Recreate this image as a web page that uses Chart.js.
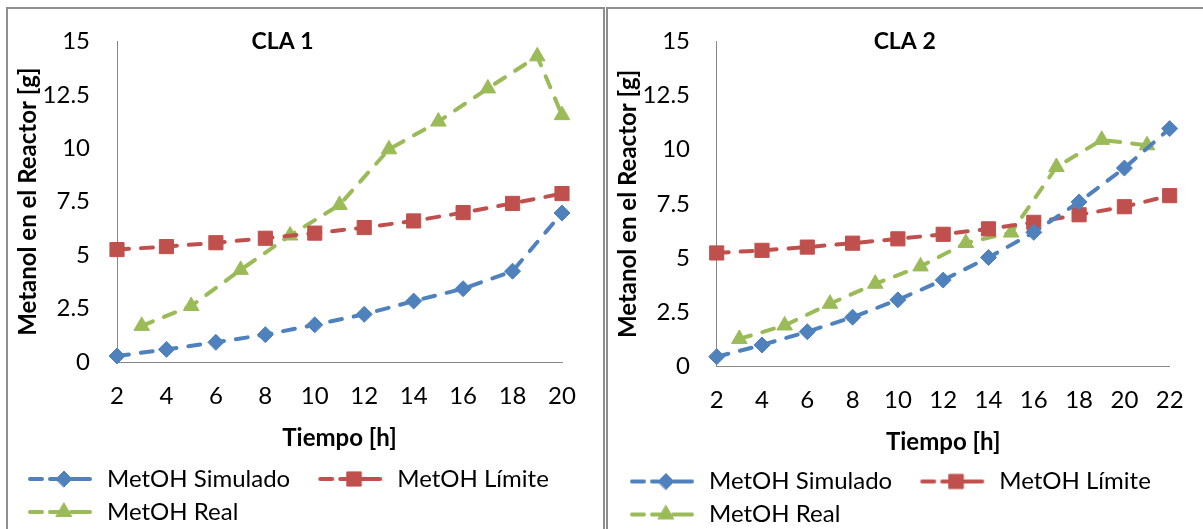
<!DOCTYPE html>
<html>
<head>
<meta charset="utf-8">
<script src="https://cdn.jsdelivr.net/npm/chart.js@4.4.1/dist/chart.umd.min.js"></script>
<style>
  body { margin: 0; width: 1203px; height: 529px; overflow: hidden; background: #fff; position: relative; }
  .marco { position: absolute; top: 7px; height: 600px; border: 2px solid #8e8e8e; box-sizing: border-box; }
  canvas { position: absolute; top: 0; }
</style>
</head>
<body>
<div class="marco" style="left:6px; width:599px;"></div>
<div class="marco" style="left:606px; width:700px;"></div>
<canvas id="grafico1" width="601" height="540" style="left:0"></canvas>
<canvas id="grafico2" width="601" height="540" style="left:602px"></canvas>
<script>
// Datos CLA 1
const horas1 = [2, 4, 6, 8, 10, 12, 14, 16, 18, 20];
const simulado1 = [0.28, 0.59, 0.92, 1.28, 1.74, 2.23, 2.85, 3.43, 4.25, 6.97];
const limite1 = [5.26, 5.40, 5.58, 5.79, 6.03, 6.29, 6.60, 6.99, 7.42, 7.88];
const horasReal1 = [3, 5, 7, 9, 11, 13, 15, 17, 19, 20];
const real1 = [1.69, 2.62, 4.31, 5.92, 7.35, 9.95, 11.25, 12.8, 14.3, 11.55];

// Datos CLA 2
const horas2 = [2, 4, 6, 8, 10, 12, 14, 16, 18, 20, 22];
const simulado2 = [0.46, 1.0, 1.61, 2.28, 3.08, 3.99, 5.03, 6.19, 7.59, 9.15, 10.97];
const limite2 = [5.24, 5.36, 5.51, 5.69, 5.89, 6.10, 6.35, 6.65, 7.00, 7.37, 7.88];
const horasReal2 = [3, 5, 7, 9, 11, 13, 15, 17, 19, 21];
const real2 = [1.28, 1.9, 2.9, 3.82, 4.62, 5.7, 6.18, 9.2, 10.45, 10.2];

// Ticks
const ticksY = [0, 2.5, 5, 7.5, 10, 12.5, 15];
const ticksX1 = [2, 4, 6, 8, 10, 12, 14, 16, 18, 20];
const ticksX2 = [2, 4, 6, 8, 10, 12, 14, 16, 18, 20, 22];

const nombres = ['MetOH Simulado', 'MetOH Límite', 'MetOH Real'];
const colores = ['#4F81BD', '#C0504D', '#9BBB59'];
const marcadores = ['rectRot', 'rect', 'triangle'];
const radios = [8, 10, 9];

Chart.defaults.font.family = 'Lato';
Chart.defaults.font.size = 24;
Chart.defaults.color = '#000';

function serie(i, xs, ys) {
    return {
        label: nombres[i],
        data: xs.map((x, k) => ({ x: x, y: ys[k] })),
        borderColor: colores[i],
        backgroundColor: colores[i],
        borderWidth: 4,
        borderDash: [12, 12],
        borderCapStyle: 'round',
        pointStyle: marcadores[i],
        pointRadius: radios[i],
        pointHoverRadius: radios[i],
        pointBorderWidth: 1,
        tension: 0,
        clip: false
    };
}

// Icono de la leyenda: linea discontinua con el marcador
function icono(i) {
    const c = document.createElement('canvas');
    c.width = 86;
    c.height = 24;
    const g = c.getContext('2d');
    g.strokeStyle = colores[i];
    g.fillStyle = colores[i];
    g.lineWidth = 4;
    g.lineCap = 'round';
    g.beginPath();
    [[21, 33], [41, 50], [62, 81]].forEach(s => { g.moveTo(s[0], 12); g.lineTo(s[1], 12); });
    g.stroke();
    g.lineWidth = 1;
    Chart.helpers.drawPoint(g, { pointStyle: marcadores[i], radius: radios[i], rotation: 0, borderWidth: 1 }, 55, 12);
    return c;
}
const iconos = [0, 1, 2].map(icono);

// Titulo dentro del area del grafico (como en Excel)
const tituloInterno = {
    id: 'tituloInterno',
    afterDatasetsDraw(chart, args, opts) {
        const area = chart.chartArea;
        const ctx = chart.ctx;
        ctx.save();
        ctx.font = 'bold 23px Lato';
        ctx.fillStyle = '#000';
        ctx.textAlign = 'center';
        ctx.textBaseline = 'middle';
        ctx.fillText(opts.texto, area.left + opts.pos * (area.right - area.left), area.top);
        ctx.restore();
    }
};

function crearGrafico(id, titulo, ticksX, datasets, aj) {
    new Chart(document.getElementById(id), {
        type: 'line',
        data: { datasets: datasets },
        plugins: [tituloInterno],
        options: {
            responsive: false,
            animation: false,
            layout: { padding: aj.padding },
            scales: {
                x: {
                    type: 'linear',
                    min: ticksX[0],
                    max: ticksX[ticksX.length - 1],
                    afterBuildTicks: s => { s.ticks = ticksX.map(v => ({ value: v })); },
                    afterFit: s => { s.height = aj.altoX; },
                    grid: { display: false, drawTicks: false },
                    border: { display: true, color: '#868686', width: 1 },
                    ticks: { padding: aj.padX, maxRotation: 0, autoSkip: false },
                    title: { display: true, text: 'Tiempo [h]', font: { weight: 'bold' }, padding: { top: 0, bottom: aj.tituloX } }
                },
                y: {
                    min: 0,
                    max: 15,
                    afterBuildTicks: s => { s.ticks = ticksY.map(v => ({ value: v })); },
                    afterFit: s => { s.width = aj.anchoY; },
                    grid: { display: false, drawTicks: false },
                    border: { display: true, color: '#868686', width: 1 },
                    ticks: { padding: aj.padY },
                    title: { display: true, text: 'Metanol en el Reactor [g]', font: { weight: 'bold' }, padding: { top: aj.tituloY, bottom: 0 } }
                }
            },
            plugins: {
                tooltip: { enabled: false },
                tituloInterno: { texto: titulo, pos: aj.pos },
                legend: {
                    position: 'bottom',
                    align: 'start',
                    labels: {
                        usePointStyle: true,
                        pointStyleWidth: 86,
                        padding: 9,
                        generateLabels: chart => {
                            const items = Chart.defaults.plugins.legend.labels.generateLabels(chart);
                            items.forEach(it => { it.pointStyle = iconos[it.datasetIndex]; });
                            return items;
                        }
                    }
                }
            }
        }
    });
}

crearGrafico('grafico1', 'CLA 1', ticksX1, [
    serie(0, horas1, simulado1),
    serie(1, horas1, limite1),
    serie(2, horasReal1, real1)
], { pos: 0.372, anchoY: 117, altoX: 96, padX: 19.6, padY: 27, tituloX: 5.6, tituloY: 14.1,
     padding: { left: 0, right: 39, top: 38, bottom: 6 } });

crearGrafico('grafico2', 'CLA 2', ticksX2, [
    serie(0, horas2, simulado2),
    serie(1, horas2, limite2),
    serie(2, horasReal2, real2)
], { pos: 0.415, anchoY: 114.7, altoX: 93.8, padX: 19.4, padY: 26.7, tituloX: 3.5, tituloY: 12.3,
     padding: { left: 0, right: 28, top: 38, bottom: 3.5 } });
</script>
</body>
</html>
